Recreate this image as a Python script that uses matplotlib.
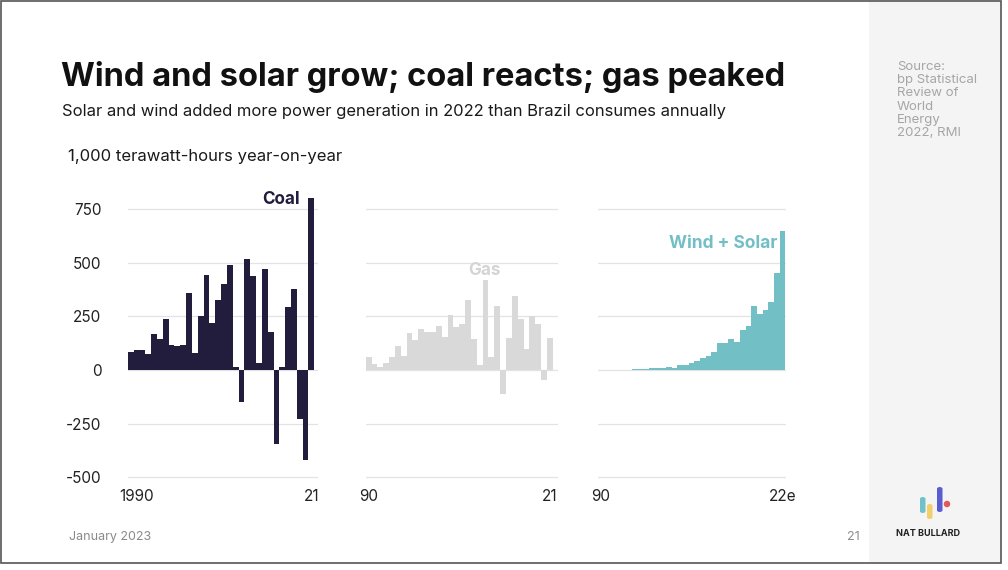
import matplotlib
matplotlib.use("Agg")
import matplotlib.pyplot as plt
from matplotlib.patches import Rectangle, FancyBboxPatch, Ellipse

plt.rcParams['font.family'] = ['Inter', 'DejaVu Sans']

# 1,000 TWh year-on-year change
coal_years = list(range(1990, 2022))
coal = [82, 95, 92, 76, 166, 144, 238, 115, 112, 118, 360, 81, 250, 444, 220, 326,
        401, 488, 12, -150, 517, 440, 31, 469, 175, -343, 12, 292, 379, -231, -422, 803]

gas_years = list(range(1990, 2022))
gas = [62, 28, 14, 34, 59, 112, 65, 171, 140, 191, 175, 179, 205, 154, 255, 199,
       216, 325, 146, 25, 419, 62, 297, -113, 151, 345, 236, 99, 250, 214, -47, 149]

ws_years = list(range(1990, 2023))
wind_solar = [0, 1, 1, 1, 2, 2, 3, 3, 5, 8, 11, 8, 14, 11, 25, 23, 31, 40, 57, 67,
              84, 126, 126, 144, 130, 185, 205, 296, 262, 280, 318, 453, 649]

grid_vals = [-500, -250, 0, 250, 500, 750]
ytick_labels = ['-500', '-250', '0', '250', '500', '750']

COAL_C = '#221d3d'
GAS_C = '#d9d9d9'
WS_C = '#73bfc6'
GRID_C = '#e3e3e3'

W, H = 1008, 570
fig = plt.figure(figsize=(W / 100, H / 100), dpi=100)
fig.patch.set_facecolor('white')


def fx(x):
    return x / W


def fy(y):
    return 1 - y / H


# side panel + frame
fig.add_artist(Rectangle((fx(869), fy(563)), fx(1000) - fx(869), fy(0) - fy(563),
                         transform=fig.transFigure, color='#f4f4f4', lw=0, zorder=0))
fig.add_artist(Rectangle((fx(0.5), fy(563)), fx(1000.5), fy(0.5) - fy(563),
                         transform=fig.transFigure, fill=False, ec='#555555', lw=1.2, zorder=5))

bottom = fy(483.6)
height = fy(192) - bottom
ylim = (-530, 830)


def panel(left_px, right_px, years, vals, color, xmax):
    ax = fig.add_axes([fx(left_px), bottom, fx(right_px) - fx(left_px), height])
    ax.set_facecolor('none')
    for g in grid_vals:
        ax.axhline(g, color=GRID_C, lw=0.9, zorder=0)
    ax.bar(years, vals, width=1.0, color=color, lw=0, zorder=2)
    ax.set_xlim(years[0] - 0.5, xmax)
    ax.set_ylim(*ylim)
    for s in ax.spines.values():
        s.set_visible(False)
    ax.tick_params(length=0)
    ax.set_yticks([])
    return ax


ax1 = panel(127.7, 318, coal_years, coal, COAL_C, 2022.13)
ax1.set_yticks(grid_vals)
ax1.set_yticklabels(ytick_labels, fontsize=11, color='#222222')
ax1.tick_params(axis='y', pad=19)
ax1.set_xticks([coal_years[0] + 1, coal_years[-1]])
ax1.set_xticklabels(['1990', '21'], fontsize=11, color='#222222')
ax1.tick_params(axis='x', pad=4)
ax1.text(2019.1, 797, 'Coal', ha='right', va='center', fontsize=12.3,
         fontweight='bold', color=COAL_C)

ax2 = panel(365.7, 558, gas_years, gas, GAS_C, 2022.4)
ax2.set_xticks([gas_years[0], gas_years[-1]])
ax2.set_xticklabels(['90', '21'], fontsize=11, color='#222222')
ax2.tick_params(axis='x', pad=4)
ax2.text(2009.8, 462, 'Gas', ha='center', va='center', fontsize=12.3,
         fontweight='bold', color='#d4d4d4')

ax3 = panel(598, 785.5, ws_years, wind_solar, WS_C, 2022.55)
ax3.set_xticks([ws_years[0], ws_years[-1]])
ax3.set_xticklabels(['90', '22e'], fontsize=11, color='#222222')
ax3.tick_params(axis='x', pad=4)
ax3.text(2021.1, 592, 'Wind + Solar', ha='right', va='center', fontsize=12.5,
         fontweight='bold', color=WS_C)

# titles
fig.text(fx(61), fy(77), 'Wind and solar grow; coal reacts; gas peaked', fontsize=23.5,
         fontweight='bold', color='#111111', va='center', ha='left')
fig.text(fx(62), fy(112), 'Solar and wind added more power generation in 2022 than Brazil consumes annually',
         fontsize=11.95, color='#1a1a1a', va='center', ha='left')
fig.text(fx(68), fy(156), '1,000 terawatt-hours year-on-year', fontsize=12,
         color='#1a1a1a', va='center', ha='left')

# source
fig.text(fx(897), fy(61), 'Source:\nbp Statistical\nReview of\nWorld\nEnergy\n2022, RMI',
         fontsize=9.5, color='#a6a6a6', va='top', ha='left', linespacing=1.13)

# footer
fig.text(fx(69), fy(537), 'January 2023', fontsize=9, color='#8a8a8a', va='center', ha='left')
fig.text(fx(860), fy(537), '21', fontsize=9, color='#8a8a8a', va='center', ha='right')
fig.text(fx(928), fy(534), 'NAT BULLARD', fontsize=6.5, fontweight='bold',
         color='#222222', va='center', ha='center')

# logo
for x0, y0, y1, c in [(920, 497, 513, '#73c1c8'), (927, 504, 519, '#f2cf6b'), (937, 487, 512, '#5a5cd2')]:
    fig.add_artist(FancyBboxPatch((fx(x0), fy(y1)), fx(5.5), fy(y0) - fy(y1),
                                  boxstyle='round,pad=0,rounding_size=0.003',
                                  transform=fig.transFigure, color=c, lw=0, zorder=3))
fig.add_artist(Ellipse((fx(947), fy(504)), fx(6.5), 6.5 / H, transform=fig.transFigure,
                       color='#e05a5a', lw=0, zorder=3))

fig.savefig('out.png', dpi=100)
